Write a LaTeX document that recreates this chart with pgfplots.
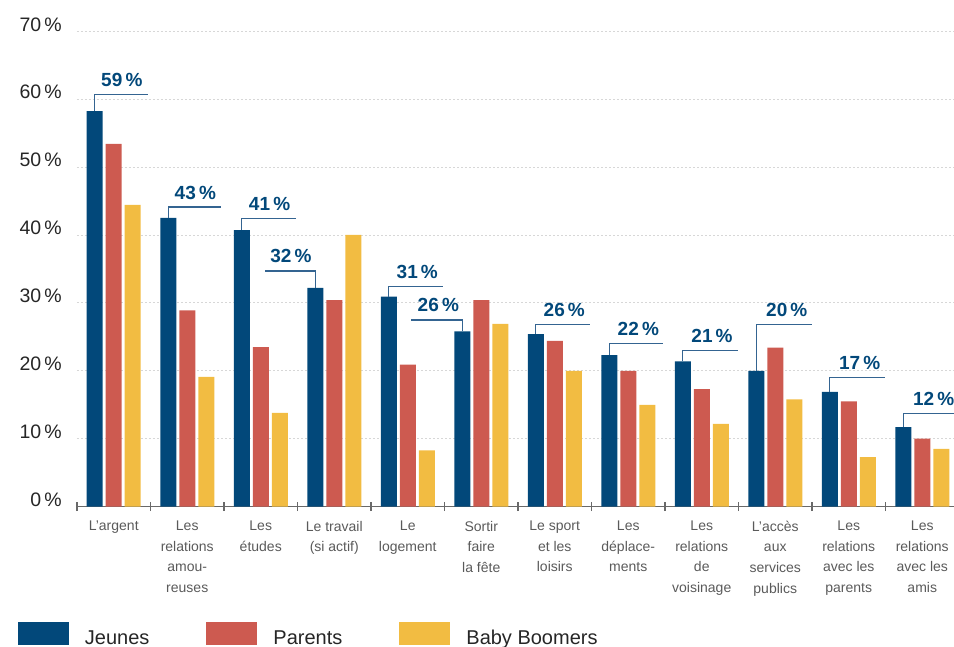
\documentclass[border=0pt]{standalone}
\usepackage{fontspec}
\setmainfont{Liberation Sans}
\usepackage{pgfplots}
\pgfplotsset{compat=1.18}
\usepackage{pgfplotstable}

\definecolor{cJ}{RGB}{2,72,122}
\definecolor{cP}{RGB}{205,90,80}
\definecolor{cB}{RGB}{242,188,66}
\definecolor{cLine}{RGB}{52,100,145}
\definecolor{cGrid}{RGB}{215,215,215}
\definecolor{cAxis}{RGB}{105,105,105}
\definecolor{cText}{RGB}{90,90,90}

\pgfplotstableread{
x J P B
0 58.2 53.4 44.4
1 42.5 28.9 19.1
2 40.7 23.5 13.8
3 32.2 30.4 40.0
4 30.9 20.9 8.3
5 25.8 30.4 26.9
6 25.4 24.4 20.0
7 22.3 20.0 15.0
8 21.4 17.3 12.2
9 20.0 23.4 15.8
10 16.9 15.5 7.3
11 11.7 10.0 8.5
}\data

\begin{document}
\begin{tikzpicture}
\begin{axis}[
  name=ax,
  x=73.5pt, y=6.795pt,
  xmin=-0.5, xmax=11.45, ymin=0, ymax=70,
  axis x line*=bottom, axis y line*=left,
  y axis line style={draw=none},
  x axis line style={cAxis, line width=1.3pt},
  xtick={0,...,11},
  xticklabels={{L’argent},{Les\\relations\\amou-\\reuses},{Les\\études},{Le travail\\(si actif)},{Le\\logement},{Sortir\\faire\\la fête},{Le sport\\et les\\loisirs},{Les\\déplace-\\ments},{Les\\relations\\de\\voisinage},{L’accès\\aux\\services\\publics},{Les\\relations\\avec les\\parents},{Les\\relations\\avec les\\amis}},
  minor xtick={-0.5,0.5,...,10.5},
  ytick={0,10,...,70},
  major tick length=0pt,
  minor tick length=9pt,
  tick align=center,
  minor x tick style={cAxis, line width=1.2pt},
  ymajorgrids,
  grid style={cGrid, dash pattern=on 2pt off 2pt, line width=0.7pt},
  /pgf/number format/assume math mode=true,
  yticklabel={\pgfmathprintnumber{\tick}\,\%},
  yticklabel style={anchor=base east, inner sep=0pt, xshift=-15pt, font=\fontsize{19.5}{20}\selectfont, text=black!85},
  xticklabel style={anchor=north, inner sep=0pt, align=center, font=\fontsize{14}{20.7}\selectfont, text=cText, yshift=-14pt},
  clip=false,
  legend columns=3,
  legend style={at={(0,0)}, anchor=north west, xshift=-59pt, yshift=-115.3pt,
    draw=none, fill=none, inner sep=0pt, outer sep=0pt,
    font=\fontsize{20}{24}\selectfont, text=black!85, nodes={inner sep=0pt},
    /tikz/every odd column/.append style={column sep=16pt},
    /tikz/every even column/.append style={column sep=57pt}},
]
\addplot[ybar, bar width=16pt, bar shift=-19pt, fill=cJ, draw=none,
  legend image code/.code={\fill[cJ] (0pt,-7pt) rectangle (51pt,16pt);}] table[x=x,y=J]{\data};
\addplot[ybar, bar width=16pt, bar shift=0pt, fill=cP, draw=none,
  legend image code/.code={\fill[cP] (0pt,-7pt) rectangle (51pt,16pt);}] table[x=x,y=P]{\data};
\addplot[ybar, bar width=16pt, bar shift=19pt, fill=cB, draw=none,
  legend image code/.code={\fill[cB] (0pt,-7pt) rectangle (51pt,16pt);}] table[x=x,y=B]{\data};
\legend{Jeunes,Parents,Baby Boomers}

% callout lines
\pgfplotsset{every axis plot/.append style={forget plot}}
\addplot[cLine, line width=1.4pt, sharp plot, no marks] coordinates {(-0.2585,58.2) (-0.2585,60.7) (0.46,60.7)};
\addplot[cLine, line width=1.4pt, sharp plot, no marks] coordinates {(0.7415,42.5) (0.7415,44.1) (1.46,44.1)};
\addplot[cLine, line width=1.4pt, sharp plot, no marks] coordinates {(1.7415,40.7) (1.7415,42.4) (2.475,42.4)};
\addplot[cLine, line width=1.4pt, sharp plot, no marks] coordinates {(2.7415,32.2) (2.7415,34.7) (2.06,34.7)};
\addplot[cLine, line width=1.4pt, sharp plot, no marks] coordinates {(3.7415,30.9) (3.7415,32.4) (4.475,32.4)};
\addplot[cLine, line width=1.4pt, sharp plot, no marks] coordinates {(4.7415,25.8) (4.7415,27.5) (4.044,27.5)};
\addplot[cLine, line width=1.4pt, sharp plot, no marks] coordinates {(5.7415,25.4) (5.7415,26.8) (6.48,26.8)};
\addplot[cLine, line width=1.4pt, sharp plot, no marks] coordinates {(6.7415,22.3) (6.7415,24.0) (7.477,24.0)};
\addplot[cLine, line width=1.4pt, sharp plot, no marks] coordinates {(7.7415,21.4) (7.7415,23.0) (8.49,23.0)};
\addplot[cLine, line width=1.4pt, sharp plot, no marks] coordinates {(8.7415,20.0) (8.7415,26.8) (9.496,26.8)};
\addplot[cLine, line width=1.4pt, sharp plot, no marks] coordinates {(9.7415,16.9) (9.7415,19.0) (10.49,19.0)};
\addplot[cLine, line width=1.4pt, sharp plot, no marks] coordinates {(10.7415,11.7) (10.7415,13.7) (11.45,13.7)};

\tikzset{cl/.style={anchor=base, yshift=8pt, text=cJ, inner sep=0pt, font=\bfseries\fontsize{19}{20}\selectfont}}
\node[cl] at (axis cs:0.11,60.7) {59\,\%};
\node[cl] at (axis cs:1.11,44.1) {43\,\%};
\node[cl] at (axis cs:2.12,42.4) {41\,\%};
\node[cl] at (axis cs:2.41,34.7) {32\,\%};
\node[cl] at (axis cs:4.13,32.4) {31\,\%};
\node[cl] at (axis cs:4.416,27.5) {26\,\%};
\node[cl] at (axis cs:6.13,26.8) {26\,\%};
\node[cl] at (axis cs:7.137,24.0) {22\,\%};
\node[cl] at (axis cs:8.14,23.0) {21\,\%};
\node[cl] at (axis cs:9.157,26.8) {20\,\%};
\node[cl] at (axis cs:10.15,19.0) {17\,\%};
\node[cl] at (axis cs:11.155,13.7) {12\,\%};
\end{axis}
\pgfresetboundingbox
\path[use as bounding box] (ax.south west) ++(-77pt,-140.3pt) rectangle ++(954pt,647pt);
\end{tikzpicture}
\end{document}
